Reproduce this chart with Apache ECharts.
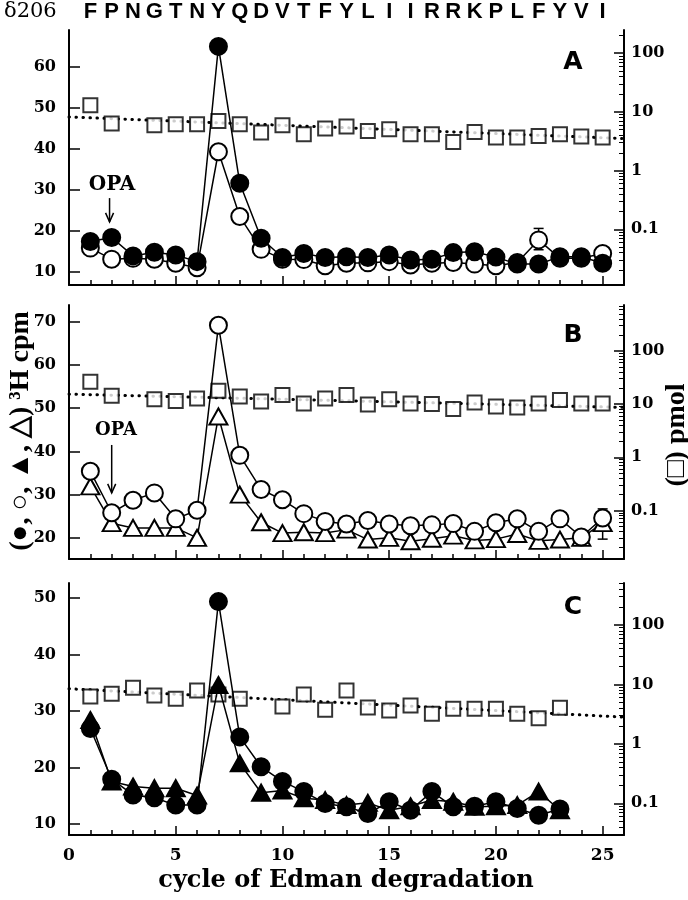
<!DOCTYPE html>
<html><head><meta charset="utf-8">
<script src="https://cdn.jsdelivr.net/npm/echarts@6/dist/echarts.min.js"></script>
<style>html,body{margin:0;padding:0;background:#fff}#c{width:688px;height:900px}</style>
</head><body><div id="c"></div>
<script>
// ---------- data ----------
const sequence = ['F','P','N','G','T','N','Y','Q','D','V','T','F','Y','L','I','I','R','R','K','P','L','F','Y','V','I'];
const cycles = [1,2,3,4,5,6,7,8,9,10,11,12,13,14,15,16,17,18,19,20,21,22,23,24,25];
const cyclesC = [1,2,3,4,5,6,7,8,9,10,11,12,13,14,15,16,17,18,19,20,21,22,23];
const squareCyclesAB = [1,2,4,5,6,7,8,9,10,11,12,13,14,15,16,17,18,19,20,21,22,23,24,25];
const squareCyclesC = [1,2,3,4,5,6,7,8,10,11,12,13,14,15,16,17,18,19,20,21,22,23];

// Panel A
const aFilledCircle = [17.4,18.4,13.9,14.8,14.1,12.5,65.0,31.6,18.2,13.5,14.5,13.5,13.7,13.5,14.1,12.9,13.1,14.7,14.9,13.6,11.9,11.9,13.7,13.7,12.1];
const aOpenCircle   = [15.8,13.1,13.3,13.1,12.1,11.0,39.3,23.5,15.5,13.1,13.0,11.5,12.1,12.2,12.5,11.7,12.1,12.3,11.9,11.5,12.3,17.8,13.3,13.3,14.5];
const aSquare = [13.0,6.35,5.93,6.17,6.17,7.03,6.17,4.46,5.93,4.17,5.21,5.64,4.75,5.07,4.17,4.17,3.08,4.56,3.66,3.66,3.90,4.17,3.80,3.66];
const aFit = [[0,8.2],[26,3.52]];
const aError = [[22,15.4,20.6]];
const aArrow = [[1.9,28.0,22.2]];

// Panel B
const bOpenCircle   = [35.4,25.8,28.7,30.4,24.4,26.4,69.2,39.1,31.2,28.8,25.6,23.8,23.2,24.0,23.2,22.8,23.0,23.3,21.5,23.5,24.4,21.5,24.4,20.2,24.6];
const bOpenTriangle = [31.9,23.4,22.3,22.3,22.3,20.0,48.1,30.0,23.6,21.1,21.3,21.1,21.9,19.6,20.0,19.2,19.8,20.5,19.4,19.7,20.9,19.3,19.6,20.0,23.4];
const bSquare = [26.2,14.3,12.4,11.5,12.8,17.8,13.95,11.2,14.8,10.3,12.8,14.8,9.8,12.4,10.3,10.0,8.06,10.7,9.05,8.67,10.3,11.9,10.3,10.3];
const bFit = [[0,15.4],[26,8.67]];
const bError = [[25,19.7,26.7]];
const bArrow = [[2.0,41.5,30.4]];

// Panel C
const cFilledCircle   = [26.9,17.9,15.1,14.6,13.3,13.3,49.4,25.4,20.1,17.5,15.7,13.6,13.0,11.8,13.9,12.4,15.7,13.0,13.1,13.9,12.7,11.5,12.6];
const cFilledTriangle = [28.4,17.5,16.6,16.3,16.3,15.0,34.6,20.7,15.5,15.9,14.5,14.2,13.3,13.7,12.4,13.1,14.2,13.9,13.0,13.1,13.3,15.7,12.4];
const cSquare = [6.28,6.97,8.8,6.53,5.75,7.93,6.79,5.75,4.26,6.79,3.75,7.93,4.1,3.65,4.43,3.21,3.90,3.90,3.90,3.21,2.71,4.05];
const cFit = [[0,8.46],[26,2.82]];

// ticks
const xTicks = [0,5,10,15,20,25];
const xMinorTicks = [1,2,3,4,6,7,8,9,11,12,13,14,16,17,18,19,21,22,23,24];
const cpmTicksA = [10,20,30,40,50,60];
const cpmTicksB = [20,30,40,50,60,70];
const cpmTicksC = [10,20,30,40,50];
const pmolTicks = [0.1,1,10,100];
const pmolMinorTicks = [];
[0.01,0.1,1,10,100].forEach(d => { for (let k = 2; k <= 9; k++) pmolMinorTicks.push(+(d*k).toPrecision(3)); });

// ---------- chart ----------
const zip = (xs, ys) => xs.map((x, i) => [x, ys[i]]);
const serifFont = 'DejaVu Serif';
const axisLineStyle = {color:'#000', width:2};
const tickStyle = {color:'#000', width:1.5};
const labelStyle = {fontFamily: serifFont, fontWeight:'bold', fontSize:16, color:'#000'};

const panels = [
  {top:30, height:255, cpmMin:6.8, cpmMax:69, cpmTicks:cpmTicksA, pMin:0.01124, pMax:249},
  {top:305, height:254, cpmMin:15.1, cpmMax:73.9, cpmTicks:cpmTicksB, pMin:0.01222, pMax:731},
  {top:583, height:252, cpmMin:8.0, cpmMax:52.7, cpmTicks:cpmTicksC, pMin:0.0293, pMax:509}
];

const grid = [], xAxis = [], yAxis = [];
const idx = [];
panels.forEach((p, g) => {
  grid.push({left:69, right:64, top:p.top, height:p.height, containLabel:false});
  const xi = xAxis.length;
  xAxis.push({type:'value', gridIndex:g, min:0, max:26, position:'bottom',
    axisLine:{show:true, onZero:false, lineStyle:axisLineStyle},
    axisTick:{show:true, inside:true, length:9, customValues:xTicks, lineStyle:tickStyle},
    axisLabel:{show:g===2, customValues:xTicks, margin:12, ...labelStyle, fontSize:17},
    splitLine:{show:false}});
  xAxis.push({type:'value', gridIndex:g, min:0, max:26, position:'bottom',
    axisLine:{show:false, onZero:false}, axisTick:{show:true, inside:true, length:5, customValues:xMinorTicks, lineStyle:tickStyle},
    axisLabel:{show:false}, splitLine:{show:false}});
  if (g === 0) {
    xAxis.push({type:'value', gridIndex:0, min:0, max:26, position:'top',
      axisLine:{show:false, onZero:false}, axisTick:{show:false},
      axisLabel:{show:true, customValues:cycles, formatter: v => sequence[Math.round(v)-1] || '', margin:7,
        fontFamily:'Liberation Sans', fontWeight:'bold', fontSize:22, color:'#000'},
      splitLine:{show:false}});
  }
  const yi = yAxis.length;
  yAxis.push({type:'value', gridIndex:g, min:p.cpmMin, max:p.cpmMax, position:'left',
    axisLine:{show:true, onZero:false, lineStyle:axisLineStyle},
    axisTick:{show:true, inside:true, length:11, customValues:p.cpmTicks, lineStyle:tickStyle},
    axisLabel:{show:true, customValues:p.cpmTicks, margin:13, ...labelStyle},
    splitLine:{show:false}});
  yAxis.push({type:'log', logBase:10, gridIndex:g, min:p.pMin, max:p.pMax, position:'right',
    axisLine:{show:true, onZero:false, lineStyle:axisLineStyle},
    axisTick:{show:true, inside:true, length:10, customValues:pmolTicks, lineStyle:tickStyle},
    axisLabel:{show:true, customValues:pmolTicks, margin:7, ...labelStyle,
      formatter: v => v < 1 ? String(+v.toFixed(1)) : String(Math.round(v))},
    splitLine:{show:false}});
  yAxis.push({type:'log', logBase:10, gridIndex:g, min:p.pMin, max:p.pMax, position:'right',
    axisLine:{show:false, onZero:false},
    axisTick:{show:true, inside:true, length:5, customValues:pmolMinorTicks, lineStyle:{color:'#000', width:1}},
    axisLabel:{show:false}, splitLine:{show:false}});
  idx.push({x:xi, left:yi, right:yi+1});
});

function squares(g, data) {
  return {type:'scatter', xAxisIndex:idx[g].x, yAxisIndex:idx[g].right, data, symbol:'rect', symbolSize:14,
    itemStyle:{color:'#fff', borderColor:'#000', borderWidth:2}, z:6, silent:true};
}
function fit(g, data) {
  return {type:'line', xAxisIndex:idx[g].x, yAxisIndex:idx[g].right, data, symbol:'none',
    lineStyle:{color:'#000', width:3, type:[0.5,6.5], cap:'round'}, z:3, silent:true};
}
function marks(g, data, symbol, filled, size, z) {
  return {type:'line', xAxisIndex:idx[g].x, yAxisIndex:idx[g].left, data, symbol, symbolSize:size, showAllSymbol:true,
    lineStyle:{color:'#000', width:1.5},
    itemStyle:{color: filled ? '#000' : '#fff', borderColor:'#000', borderWidth:2}, z, silent:true};
}
function errorBars(g, data) {
  return {type:'custom', xAxisIndex:idx[g].x, yAxisIndex:idx[g].left, data, encode:{x:0, y:[1,2]}, z:4, silent:true,
    renderItem: (params, api) => {
      const lo = api.coord([api.value(0), api.value(1)]);
      const hi = api.coord([api.value(0), api.value(2)]);
      const st = {stroke:'#000', lineWidth:1.5};
      return {type:'group', children:[
        {type:'line', shape:{x1:lo[0], y1:lo[1], x2:hi[0], y2:hi[1]}, style:st},
        {type:'line', shape:{x1:lo[0]-5, y1:lo[1], x2:lo[0]+5, y2:lo[1]}, style:st},
        {type:'line', shape:{x1:hi[0]-5, y1:hi[1], x2:hi[0]+5, y2:hi[1]}, style:st}
      ]};
    }};
}
function arrow(g, data) {
  return {type:'custom', xAxisIndex:idx[g].x, yAxisIndex:idx[g].left, data, encode:{x:0, y:[1,2]}, z:8, silent:true,
    renderItem: (params, api) => {
      const a = api.coord([api.value(0), api.value(1)]);
      const b = api.coord([api.value(0), api.value(2)]);
      const st = {stroke:'#000', lineWidth:1.5};
      return {type:'group', children:[
        {type:'line', shape:{x1:a[0], y1:a[1], x2:b[0], y2:b[1]}, style:st},
        {type:'polyline', shape:{points:[[b[0]-4, b[1]-9],[b[0], b[1]],[b[0]+4, b[1]-9]]}, style:{stroke:'#000', lineWidth:1.5, fill:null}}
      ]};
    }};
}

const series = [
  fit(0, aFit), squares(0, zip(squareCyclesAB, aSquare)),
  errorBars(0, aError),
  marks(0, zip(cycles, aOpenCircle), 'circle', false, 17, 7),
  marks(0, zip(cycles, aFilledCircle), 'circle', true, 17, 8),
  arrow(0, aArrow),

  fit(1, bFit), squares(1, zip(squareCyclesAB, bSquare)),
  errorBars(1, bError),
  marks(1, zip(cycles, bOpenTriangle), 'triangle', false, [18,16], 7),
  marks(1, zip(cycles, bOpenCircle), 'circle', false, 17, 8),
  arrow(1, bArrow),

  fit(2, cFit), squares(2, zip(squareCyclesC, cSquare)),
  marks(2, zip(cyclesC, cFilledTriangle), 'triangle', true, [18,16], 7),
  marks(2, zip(cyclesC, cFilledCircle), 'circle', true, 17, 8)
];

const graphic = [
  {type:'text', left:4, top:1, style:{text:'δ206', font:'21px "DejaVu Serif"', fill:'#000'}},
  {type:'text', x:573, y:62, style:{text:'A', font:'bold 25px "DejaVu Sans"', fill:'#000', align:'center', verticalAlign:'middle'}},
  {type:'text', x:573, y:335, style:{text:'B', font:'bold 25px "DejaVu Sans"', fill:'#000', align:'center', verticalAlign:'middle'}},
  {type:'text', x:573, y:607, style:{text:'C', font:'bold 25px "DejaVu Sans"', fill:'#000', align:'center', verticalAlign:'middle'}},
  {type:'text', x:112, y:185, style:{text:'OPA', font:'bold 20px "DejaVu Serif"', fill:'#000', align:'center', verticalAlign:'middle'}},
  {type:'text', x:116, y:430, style:{text:'OPA', font:'bold 18px "DejaVu Serif"', fill:'#000', align:'center', verticalAlign:'middle'}},
  {type:'text', x:21, y:431, rotation:Math.PI/2, style:{text:'(●, ○, ▲, △) ³H cpm', font:'bold 28px "Liberation Serif"', fill:'#000', align:'center', verticalAlign:'middle'}},
  {type:'text', x:677, y:435, rotation:Math.PI/2, style:{text:'(□) pmol', font:'bold 28px "Liberation Serif"', fill:'#000', align:'center', verticalAlign:'middle'}},
  {type:'text', x:346, y:881, style:{text:'cycle of Edman degradation', font:'bold 24px "DejaVu Serif"', fill:'#000', align:'center', verticalAlign:'middle'}}
];

const chart = echarts.init(document.getElementById('c'), null, {renderer:'canvas'});
chart.setOption({animation:false, backgroundColor:'#fff', grid, xAxis, yAxis, series, graphic, tooltip:{show:false}});
</script>
</body></html>
